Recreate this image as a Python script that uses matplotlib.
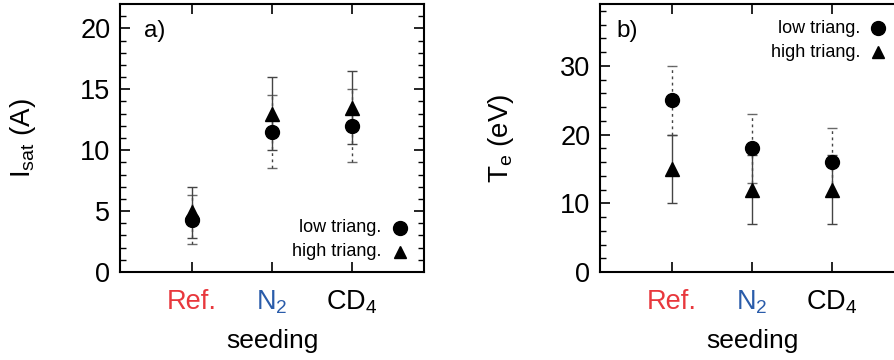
import numpy as np
import matplotlib
matplotlib.use('Agg')
import matplotlib.pyplot as plt

plt.rcParams['font.family'] = ['Liberation Sans', 'DejaVu Sans']
plt.rcParams['mathtext.fontset'] = 'custom'
plt.rcParams['mathtext.rm'] = 'Liberation Sans'
plt.rcParams['mathtext.it'] = 'Liberation Sans'

# categories
seeding = ['Ref.', r'N$_2$', r'CD$_4$']
seed_colors = ['#e8383d', '#2a5caa', 'black']

# panel a: I_sat (A)
isat_low = [4.3, 11.5, 12.0]
isat_low_err = [2.0, 3.0, 3.0]
isat_high = [4.9, 13.0, 13.5]
isat_high_err = [2.1, 3.0, 3.0]

# panel b: T_e (eV)
te_low = [25, 18, 16]
te_low_err = [5, 5, 5]
te_high = [15, 12, 12]
te_high_err = [5, 5, 5]

ebar_col = '#444444'

fig = plt.figure(figsize=(8.95, 3.6), dpi=100)
ax1 = fig.add_axes([0.1341, 0.2444, 0.3397, 0.7444])
ax2 = fig.add_axes([0.6704, 0.2444, 0.3397, 0.7444])

x = np.arange(1, len(seeding) + 1)


def draw(ax, low, low_err, high, high_err):
    e1 = ax.errorbar(x, low, yerr=low_err, fmt='none', ecolor=ebar_col,
                     elinewidth=1.0, capsize=3.5, capthick=1.0, zorder=2)
    for lc in e1[2]:
        lc.set_linestyle((0, (2, 2.5)))
    for cap in e1[1]:
        cap.set_alpha(0.8)
    ax.errorbar(x, high, yerr=high_err, fmt='none', ecolor=ebar_col,
                elinewidth=1.0, capsize=3.5, capthick=1.0, zorder=2)
    ax.plot(x, low, 'o', color='black', ms=10, zorder=3)
    ax.plot(x, high, '^', color='black', ms=10, zorder=4)


def style(ax, ymax, major, minor):
    ax.set_xlim(0.1, 3.9)
    ax.set_ylim(0, ymax)
    ax.set_xticks(x)
    ax.set_xticklabels(seeding, fontsize=18.5)
    for lab, c in zip(ax.get_xticklabels(), seed_colors):
        lab.set_color(c)
    ax.set_yticks(np.arange(0, ymax, major))
    ax.set_yticks(np.arange(0, ymax, minor), minor=True)
    ax.tick_params(axis='both', which='major', direction='in', length=7,
                   width=1.2, top=True, right=True, labelsize=19.5, pad=7)
    ax.tick_params(axis='y', which='minor', direction='in', length=4,
                   width=1.0, right=True)
    ax.tick_params(axis='x', which='major', pad=12)
    for s in ax.spines.values():
        s.set_linewidth(1.5)
    ax.set_xlabel('seeding', fontsize=19, labelpad=9)


draw(ax1, isat_low, isat_low_err, isat_high, isat_high_err)
style(ax1, 22, 5, 1)
ax1.set_ylabel(r'I$_{\rm sat}$ (A)', fontsize=20, labelpad=30)
ax1.text(0.08, 0.9, 'a)', transform=ax1.transAxes, fontsize=17.5,
         ha='left', va='center')
ax1.text(0.86, 0.165, 'low triang.', transform=ax1.transAxes, fontsize=13,
         ha='right', va='center')
ax1.plot([0.92], [0.165], 'o', color='black', ms=10, transform=ax1.transAxes)
ax1.text(0.86, 0.075, 'high triang.', transform=ax1.transAxes, fontsize=13,
         ha='right', va='center')
ax1.plot([0.92], [0.075], '^', color='black', ms=9, transform=ax1.transAxes)

draw(ax2, te_low, te_low_err, te_high, te_high_err)
style(ax2, 39, 10, 2)
ax2.set_ylabel(r'T$_{\rm e}$ (eV)', fontsize=20, labelpad=32)
ax2.text(0.055, 0.9, 'b)', transform=ax2.transAxes, fontsize=17.5,
         ha='left', va='center')
ax2.text(0.855, 0.91, 'low triang.', transform=ax2.transAxes, fontsize=13,
         ha='right', va='center')
ax2.plot([0.915], [0.91], 'o', color='black', ms=10, transform=ax2.transAxes)
ax2.text(0.855, 0.82, 'high triang.', transform=ax2.transAxes, fontsize=13,
         ha='right', va='center')
ax2.plot([0.915], [0.82], '^', color='black', ms=9, transform=ax2.transAxes)
# N2 tick drawn in blue on panel b
ax2.xaxis.get_major_ticks()[1].tick1line.set_color('#2a5caa')
ax2.xaxis.get_major_ticks()[1].tick2line.set_color('#2a5caa')

fig.savefig('out.png', dpi=100, facecolor='white')
